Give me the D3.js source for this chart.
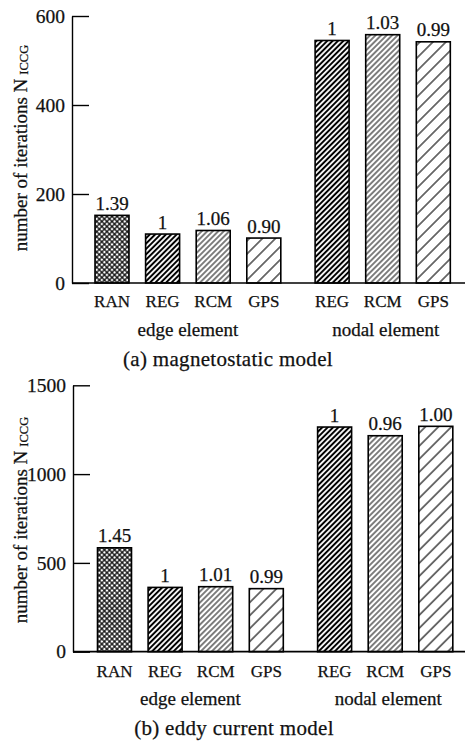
<!DOCTYPE html>
<html>
<head>
<meta charset="utf-8">
<script src="https://cdn.jsdelivr.net/npm/d3@7"></script>
<style>
  html, body { margin: 0; padding: 0; background: #fff; }
  svg { display: block; }
  text { font-family: "Liberation Serif", "Times New Roman", serif; fill: #111; stroke: #111; stroke-width: 0.25px; }
</style>
</head>
<body>
<svg id="chart" width="465" height="741"></svg>
<script>
// ---------------- data ----------------
const categories = ["RAN", "REG", "RCM", "GPS", "REG", "RCM", "GPS"];
const groupIndex = [0, 0, 0, 0, 1, 1, 1];
const groupNames = ["edge element", "nodal element"];
const fillKind = ["cross", "heavy", "medium", "sparse", "heavy", "medium", "sparse"];

const magnetoValues = [152, 110, 118, 101, 545, 558, 542];
const magnetoRatios = ["1.39", "1", "1.06", "0.90", "1", "1.03", "0.99"];
const magnetoTicks = [0, 200, 400, 600];

const eddyValues = [585, 362, 366, 355, 1265, 1216, 1269];
const eddyRatios = ["1.45", "1", "1.01", "0.99", "1", "0.96", "1.00"];
const eddyTicks = [0, 500, 1000, 1500];

const captions = ["(a) magnetostatic model", "(b) eddy current model"];

// ---------------- layout ----------------
const svg = d3.select("#chart");
const W = 465;
const groupGap = 0.35;      // extra slot gap between groups
const slotW = 50.6;
const barW = 34;

const defs = svg.append("defs");
function hatch(id, size, sw) {
  const p = defs.append("pattern")
    .attr("id", id).attr("patternUnits", "userSpaceOnUse")
    .attr("width", size).attr("height", size)
    .attr("patternTransform", "rotate(45)");
  p.append("rect").attr("width", size).attr("height", size).attr("fill", "#fff");
  p.append("line").attr("x1", size / 2).attr("x2", size / 2)
    .attr("y1", -1).attr("y2", size + 1)
    .attr("stroke", "#000").attr("stroke-width", sw);
}
hatch("heavy", 3.8, 2.0);
hatch("medium", 3.9, 1.0);
hatch("sparse", 9.2, 1.1);
(function () {
  const s = 3.6;
  const p = defs.append("pattern")
    .attr("id", "cross").attr("patternUnits", "userSpaceOnUse")
    .attr("width", s).attr("height", s)
    .attr("patternTransform", "rotate(45)");
  p.append("rect").attr("width", s).attr("height", s).attr("fill", "#fff");
  p.append("line").attr("x1", s / 2).attr("x2", s / 2).attr("y1", -1).attr("y2", s + 1)
    .attr("stroke", "#000").attr("stroke-width", 1.2);
  p.append("line").attr("y1", s / 2).attr("y2", s / 2).attr("x1", -1).attr("x2", s + 1)
    .attr("stroke", "#000").attr("stroke-width", 1.2);
})();

const panels = [
  { values: magnetoValues, ratios: magnetoRatios, ticks: magnetoTicks, caption: captions[0],
    axisX: 72, yBottom: 283, yTop: 16, firstCenter: 112,
    catY: 307, groupY: 336, capY: 366, capX: 228, labelY: 148 },
  { values: eddyValues, ratios: eddyRatios, ticks: eddyTicks, caption: captions[1],
    axisX: 73, yBottom: 651.7, yTop: 385.3, firstCenter: 114.5,
    catY: 677, groupY: 705, capY: 735, capX: 234, labelY: 520 }
];

panels.forEach(P => {
  const g = svg.append("g");
  const slots = categories.map((c, i) => i + groupIndex[i] * groupGap);
  const maxSlot = d3.max(slots);
  const x = d3.scaleLinear().domain([0, maxSlot])
    .range([P.firstCenter, P.firstCenter + maxSlot * slotW]);
  const y = d3.scaleLinear().domain(d3.extent(P.ticks)).range([P.yBottom, P.yTop]);

  // bars
  g.selectAll("rect.bar").data(P.values).join("rect")
    .attr("class", "bar")
    .attr("x", (d, i) => x(slots[i]) - barW / 2)
    .attr("width", barW)
    .attr("y", d => y(d))
    .attr("height", d => y(0) - y(d))
    .attr("fill", (d, i) => `url(#${fillKind[i]})`)
    .attr("stroke", "#000").attr("stroke-width", 1.6);

  // value labels
  g.selectAll("text.val").data(P.values).join("text")
    .attr("class", "val")
    .attr("x", (d, i) => x(slots[i]))
    .attr("y", d => y(d) - 5.5)
    .attr("text-anchor", "middle")
    .attr("font-size", 19)
    .text((d, i) => P.ratios[i]);

  // y axis
  const ax = g.append("g").attr("transform", `translate(${P.axisX},0)`)
    .call(d3.axisLeft(y).tickValues(P.ticks).tickFormat(d3.format("d"))
      .tickSizeInner(-17).tickSizeOuter(0).tickPadding(7));
  ax.select(".domain").attr("stroke", "#000").attr("stroke-width", 1.4);
  ax.selectAll(".tick line").attr("stroke", "#000").attr("stroke-width", 1.4);
  ax.selectAll(".tick text")
    .attr("font-family", "Liberation Serif, Times New Roman, serif")
    .attr("font-size", 19.5).attr("fill", "#111");

  // baseline
  g.append("line")
    .attr("x1", P.axisX).attr("x2", W)
    .attr("y1", y(0)).attr("y2", y(0))
    .attr("stroke", "#000").attr("stroke-width", 1.7);

  // category labels
  g.selectAll("text.cat").data(categories).join("text")
    .attr("class", "cat")
    .attr("x", (d, i) => x(slots[i]))
    .attr("y", P.catY)
    .attr("text-anchor", "middle")
    .attr("font-size", 17)
    .text(d => d);

  // group labels
  groupNames.forEach((name, gi) => {
    const s = slots.filter((v, i) => groupIndex[i] === gi);
    g.append("text")
      .attr("x", x(d3.mean(s)) + (gi === 1 ? 3 : 0))
      .attr("y", P.groupY)
      .attr("text-anchor", "middle")
      .attr("font-size", 19)
      .text(name);
  });

  // caption
  g.append("text")
    .attr("x", P.capX).attr("y", P.capY)
    .attr("text-anchor", "middle")
    .attr("font-size", 21)
    .attr("letter-spacing", 0.3)
    .text(P.caption);

  // y label
  const yl = g.append("text")
    .attr("transform", `translate(27,${P.labelY}) rotate(-90)`)
    .attr("text-anchor", "middle")
    .attr("font-size", 19);
  yl.append("tspan").text("number of iterations N");
  yl.append("tspan").attr("font-size", 12.5).attr("dx", 4).attr("dy", 1).text("ICCG");
});
</script>
</body>
</html>
